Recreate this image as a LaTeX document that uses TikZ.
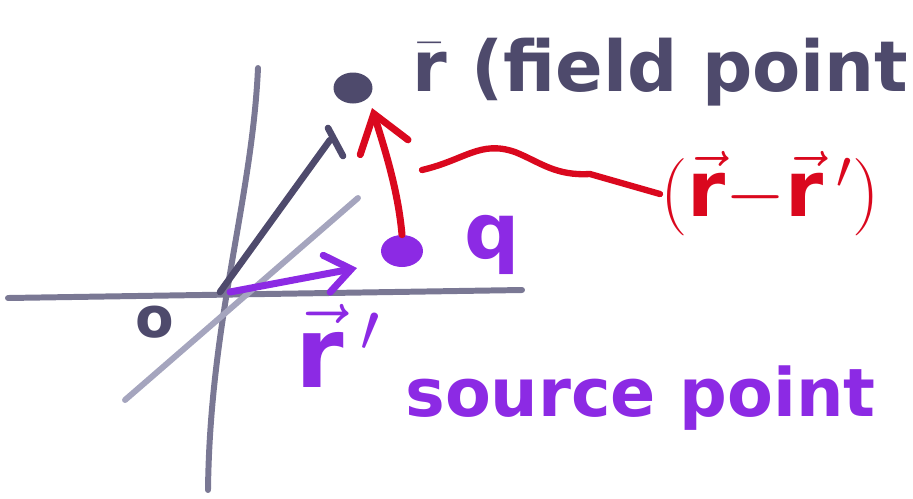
\documentclass[tikz,border=0pt]{standalone}
\usepackage{fix-cm}
\usepackage{amsmath}
\usepackage{fontspec}
\setmainfont{DejaVu Sans}
\usetikzlibrary{arrows.meta, decorations.pathmorphing, shapes.geometric, positioning, calc}

\definecolor{inkdark}{RGB}{78,74,108}
\definecolor{axisgray}{RGB}{122,120,148}
\definecolor{axislight}{RGB}{165,165,190}
\definecolor{inkred}{RGB}{218,8,30}
\definecolor{inkpurple}{RGB}{140,42,228}

\begin{document}
\begin{tikzpicture}[
    x=0.02cm, y=-0.02cm,
    % --- STYLES ---
    axis_line/.style={draw=axisgray, line width=3.4pt, line cap=round},
    axis_pale/.style={draw=axislight, line width=3.4pt, line cap=round},
    axis_ink/.style={draw=inkdark, line width=3.8pt, line cap=round},
    dot/.style={ellipse, inner sep=0pt, minimum width=0.78cm, minimum height=0.62cm},
    % Arrow Styles
    red_arrow/.style={-{Straight Barb[length=0.7cm, width=1.0cm, line cap=round]}, draw=inkred, line width=4pt, line cap=round},
    purple_arrow/.style={-{Straight Barb[length=0.5cm, width=0.75cm, line cap=round]}, draw=inkpurple, line width=4pt, line cap=round},
    red_wave/.style={draw=inkred, line width=3.6pt, line cap=round},
    hand_text/.style={font=\bfseries, inner sep=0pt}
]
\useasboundingbox (0,0) rectangle (913,498);

% --- 1. AXES ---
\coordinate (O) at (220,292);
\draw[axis_line] (8,298) -- (522,290);
\draw[axis_line] (258,68) .. controls (252,200) and (210,320) .. (208,490);
\draw[axis_pale] (125,400) -- (358,198);
\draw[axis_ink] (O) -- (330,140);
\draw[axis_ink] (328,128) -- (343,156);
\node[hand_text, text=inkdark, font=\fontsize{32}{32}\bfseries\selectfont] (Olab) at (155,322) {o};

% --- 2. FIELD POINT ---
\node[dot, fill=inkdark] (F) at (353,88) {};
\coordinate (Ftip) at (372,108);
\node[hand_text, text=inkdark, font=\fontsize{40}{40}\bfseries\selectfont, anchor=west] (Flab) at (412,72) {$\bar{\mathbf{r}}$ (field point};

% --- 3. SOURCE POINT ---
\node[dot, fill=inkpurple, minimum width=0.84cm, minimum height=0.64cm] (S) at (402,251) {};
\node[hand_text, text=inkpurple, font=\fontsize{44}{44}\bfseries\selectfont] (q) at (492,245) {q};
\node[hand_text, text=inkpurple, font=\fontsize{56}{56}\bfseries\selectfont] (rp) at (338,346) {$\vec{\mathbf{r}}\,'$};
\node[hand_text, text=inkpurple, font=\fontsize{38}{38}\bfseries\selectfont, anchor=west] (Slab) at (405,398) {source point};

% --- 4. VECTORS ---
\draw[purple_arrow] ($(O)+(10,0)$) -- (357,268);
\draw[red_arrow] (S.north) .. controls (398,190) and (385,150) .. (Ftip);

% --- 5. DIFFERENCE LABEL ---
\node[hand_text, text=inkred, font=\fontsize{44}{44}\bfseries\selectfont, anchor=west] (D) at (660,194) {$(\vec{\mathbf{r}}{-}\vec{\mathbf{r}}\,')$};
\coordinate (W) at (422,170);
\draw[red_wave] (W) .. controls (465,160) and (480,140) .. (515,152)
    .. controls (540,162) and (555,176) .. (590,174) -- (D.west);

\end{tikzpicture}
\end{document}
